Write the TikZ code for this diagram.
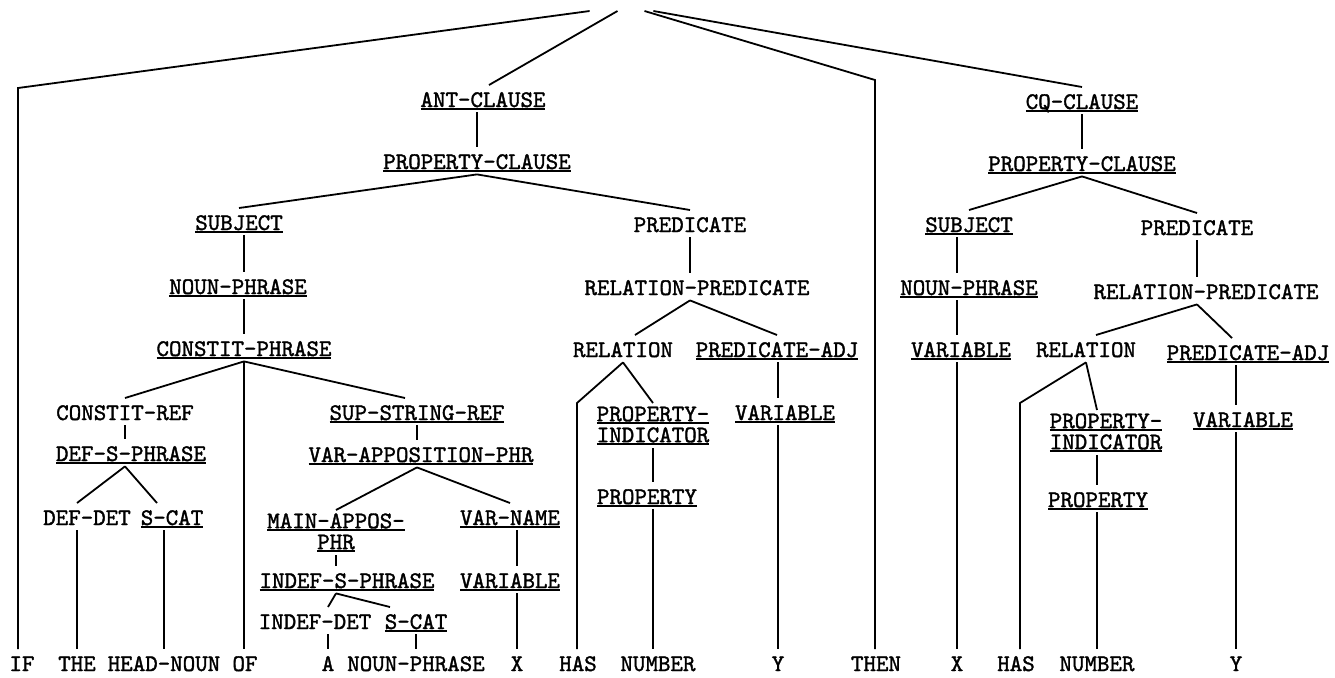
\documentclass[tikz,border=0pt]{standalone}
\usepackage{fontspec}
\newfontfamily\typewr{lmmono10-regular.otf}[FakeBold=1.5]
\newcommand\undl[1]{\setbox0=\hbox{#1}\rlap{\rule[-1.3pt]{\wd0}{0.7pt}}\box0}

\begin{document}
\begin{tikzpicture}[x=0.5pt, y=-0.5pt,
    cat/.style={font=\typewr\fontsize{11.9pt}{10.5pt}\selectfont, anchor=base, inner xsep=1pt, inner ysep=1.5pt, text height=9.3pt, text depth=1pt},
    stack/.style={cat, anchor=north, align=center, text height={}, text depth={}},
    word/.style={cat},
    conn/.style={line width=0.9pt}
  ]
    \useasboundingbox (0,0) rectangle (1335,677);

    \node[inner sep=0pt, minimum width=31.5pt] (root) at (621.5,11) {};
    \coordinate (ifbend) at (18,88);
    \coordinate (thenbend) at (875,80);
    \coordinate (hasbendL) at (577,403);
    \coordinate (hasbendR) at (1020,403);

    \node[cat] (ant) at (483,107) {\undl{ANT-CLAUSE}};
    \node[cat] (propL) at (477,169) {\undl{PROPERTY-CLAUSE}};
    \node[cat] (subjL) at (239,230) {\undl{SUBJECT}};
    \node[cat] (predL) at (690,232) {PREDICATE};
    \node[cat] (npL) at (238,294) {\undl{NOUN-PHRASE}};
    \node[cat] (relpredL) at (697,295) {RELATION-PREDICATE};
    \node[cat] (constit) at (244,356) {\undl{CONSTIT-PHRASE}};
    \node[cat] (relL) at (623,357) {RELATION};
    \node[cat] (padjL) at (777,357) {\undl{PREDICATE-ADJ}};
    \node[cat] (cref) at (125,420) {CONSTIT-REF};
    \node[cat] (ssref) at (417,420) {\undl{SUP-STRING-REF}};
    \node[stack] (propindL) at (653,403) {\undl{PROPERTY-}\\\undl{INDICATOR}};
    \node[cat] (varL1) at (785,420) {\undl{VARIABLE}};
    \node[cat] (defs) at (131,461) {\undl{DEF-S-PHRASE}};
    \node[cat] (varapp) at (421,462) {\undl{VAR-APPOSITION-PHR}};
    \node[cat] (propL2) at (647,504) {\undl{PROPERTY}};
    \node[cat] (defdet) at (87,525) {DEF-DET};
    \node[cat] (scatL) at (172,525) {\undl{S-CAT}};
    \node[stack] (mainapp) at (336,510) {\undl{MAIN-APPOS-}\\\undl{PHR}};
    \node[cat] (varname) at (510,525) {\undl{VAR-NAME}};
    \node[cat] (indefs) at (347,588) {\undl{INDEF-S-PHRASE}};
    \node[cat] (varM) at (510,588) {\undl{VARIABLE}};
    \node[cat] (indefdet) at (315,629) {INDEF-DET};
    \node[cat] (scatM) at (416,629) {\undl{S-CAT}};

    \node[cat] (cq) at (1082,109) {\undl{CQ-CLAUSE}};
    \node[cat] (propR) at (1082,171) {\undl{PROPERTY-CLAUSE}};
    \node[cat] (subjR) at (969,232) {\undl{SUBJECT}};
    \node[cat] (predR) at (1197,235) {PREDICATE};
    \node[cat] (npR) at (969,295) {\undl{NOUN-PHRASE}};
    \node[cat] (relpredR) at (1206,299) {RELATION-PREDICATE};
    \node[cat] (varR) at (961,357) {\undl{VARIABLE}};
    \node[cat] (relR) at (1086,357) {RELATION};
    \node[cat] (padjR) at (1248,360) {\undl{PREDICATE-ADJ}};
    \node[stack] (propindR) at (1106,410) {\undl{PROPERTY-}\\\undl{INDICATOR}};
    \node[cat] (varR2) at (1243,427) {\undl{VARIABLE}};
    \node[cat] (propR2) at (1098,507) {\undl{PROPERTY}};

    \node[word] (if) at (22,671) {IF};
    \node[word] (the) at (77,671) {THE};
    \node[word] (headnoun) at (164,671) {HEAD-NOUN};
    \node[word] (of) at (245,671) {OF};
    \node[word] (a) at (328,671) {A};
    \node[word] (nounphr) at (416,671) {NOUN-PHRASE};
    \node[word] (xL) at (517,671) {X};
    \node[word] (hasL) at (578,671) {HAS};
    \node[word] (numL) at (658,671) {NUMBER};
    \node[word] (yL) at (778,671) {Y};
    \node[word] (then) at (876,671) {THEN};
    \node[word] (xR) at (957,671) {X};
    \node[word] (hasR) at (1016,671) {HAS};
    \node[word] (numR) at (1097,671) {NUMBER};
    \node[word] (yR) at (1236,671) {Y};

    \draw[conn] (root.west) -- (ifbend) -- (ifbend |- if.north);
    \draw[conn] ([xshift=-2pt]root.center) -- ([xshift=3pt]ant.north);
    \draw[conn] ([xshift=11.5pt]root.center) -- (thenbend) -- (thenbend |- then.north);
    \draw[conn] (root.east) -- (cq.north);

    \draw[conn] (propL.north |- ant.south) -- (propL.north);
    \draw[conn] (propL.south) -- (subjL.north);
    \draw[conn] (propL.south) -- (predL.north);
    \draw[conn] (constit.north |- subjL.south) -- (constit.north |- npL.north);
    \draw[conn] (constit.north |- npL.south) -- (constit.north);
    \draw[conn] (predL.south) -- (predL.south |- relpredL.north);
    \draw[conn] (predL.south |- relpredL.south) -- ([xshift=6pt]relL.north);
    \draw[conn] (predL.south |- relpredL.south) -- (padjL.north);
    \draw[conn] (constit.south) -- (cref.north);
    \draw[conn] (constit.south) -- (constit.south |- of.north);
    \draw[conn] (constit.south) -- ([xshift=-6pt]ssref.north);
    \draw[conn] (cref.south) -- (cref.south |- defs.north);
    \draw[conn] (cref.south |- defs.south) -- ([xshift=-5pt]defdet.north);
    \draw[conn] (cref.south |- defs.south) -- ([xshift=-7.5pt]scatL.north);
    \draw[conn] (the.north |- defdet.south) -- (the.north);
    \draw[conn] (headnoun.north |- scatL.south) -- (headnoun.north);
    \draw[conn] (ssref.south) -- (ssref.south |- varapp.north);
    \draw[conn] (ssref.south |- varapp.south) -- (mainapp.north);
    \draw[conn] (ssref.south |- varapp.south) -- (varname.north);
    \draw[conn] (mainapp.south) -- (mainapp.south |- indefs.north);
    \draw[conn] (mainapp.south |- indefs.south) -- ([xshift=6.5pt]indefdet.north);
    \draw[conn] (mainapp.south |- indefs.south) -- ([xshift=-13pt]scatM.north);
    \draw[conn] (a.north |- indefdet.south) -- (a.north);
    \draw[conn] (scatM.south) -- (scatM.south |- nounphr.north);
    \draw[conn] (xL.north |- varname.south) -- (xL.north |- varM.north);
    \draw[conn] (xL.north |- varM.south) -- (xL.north);
    \draw[conn] (relL.south) -- (hasbendL) -- (hasbendL |- hasL.north);
    \draw[conn] (relL.south) -- (propindL.north);
    \draw[conn] (propindL.south) -- (propindL.south |- propL2.north);
    \draw[conn] (propindL.south |- propL2.south) -- (propindL.south |- numL.north);
    \draw[conn] (yL.north |- padjL.south) -- (yL.north |- varL1.north);
    \draw[conn] (yL.north |- varL1.south) -- (yL.north);

    \draw[conn] (cq.south) -- (cq.south |- propR.north);
    \draw[conn] (propR.south) -- (subjR.north);
    \draw[conn] (propR.south) -- (predR.north);
    \draw[conn] (xR.north |- subjR.south) -- (xR.north |- npR.north);
    \draw[conn] (xR.north |- npR.south) -- (xR.north |- varR.north);
    \draw[conn] (xR.north |- varR.south) -- (xR.north);
    \draw[conn] (predR.south) -- (predR.south |- relpredR.north);
    \draw[conn] (predR.south |- relpredR.south) -- ([xshift=5pt]relR.north);
    \draw[conn] (predR.south |- relpredR.south) -- ([xshift=-8pt]padjR.north);
    \draw[conn] (relR.south) -- (hasbendR) -- (hasbendR |- hasR.north);
    \draw[conn] (relR.south) -- ([xshift=-4.5pt]propindR.north);
    \draw[conn] (numR.north |- propindR.south) -- (numR.north |- propR2.north);
    \draw[conn] (numR.north |- propR2.south) -- (numR.north);
    \draw[conn] (yR.north |- padjR.south) -- (yR.north |- varR2.north);
    \draw[conn] (yR.north |- varR2.south) -- (yR.north);
\end{tikzpicture}
\end{document}
